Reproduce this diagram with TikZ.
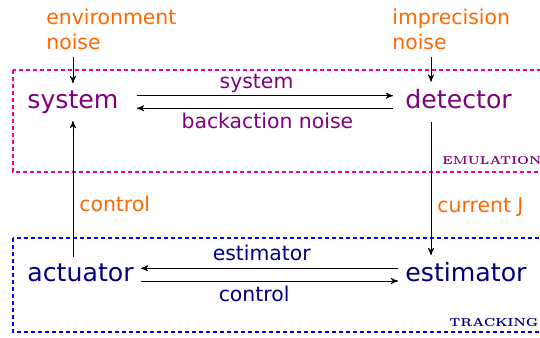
\documentclass[tikz,border=0pt]{standalone}
\usepackage{fontspec}
\setsansfont{DejaVu Sans}
\usepackage{xcolor}
\usepackage{tikz}
\usetikzlibrary{arrows,positioning}

\definecolor{noiseorange}{RGB}{255,102,0}
\definecolor{emupurple}{RGB}{128,0,128}
\definecolor{tracknavy}{RGB}{0,0,128}

\begin{document}
\begin{tikzpicture}[
        x=0.5pt, y=-0.5pt, >=stealth',
        block/.style={font=\sffamily\fontsize{12.6}{15}\selectfont, inner sep=3.5pt, anchor=base west},
        noise/.style={font=\sffamily\fontsize{10.2}{12.5}\selectfont, text=noiseorange, align=left, inner sep=3.5pt, anchor=south west},
        toplabel/.style={font=\sffamily\fontsize{10.2}{12}\selectfont, inner sep=0pt, anchor=base, yshift=3.7pt},
        botlabel/.style={font=\sffamily\fontsize{10.2}{12}\selectfont, inner sep=0pt, anchor=base, yshift=-10pt},
        sidelabel/.style={font=\sffamily\fontsize{10.2}{12}\selectfont, text=noiseorange, inner sep=0pt, anchor=base west, xshift=3pt},
        tag/.style={font=\rmfamily\bfseries\fontsize{5.8}{7}\selectfont, inner sep=0pt, anchor=base west},
        frame/.style={line width=0.6pt, dash pattern=on 2pt off 1.5pt}
      ]
        \useasboundingbox (0,0) rectangle (540,337);

        % layers
        \draw[frame, magenta] (13,70) rectangle (560,172);
        \draw[frame, blue] (13,238) rectangle (560,332);
        \node[tag, text=emupurple] (emu) at (442,164.3) {EMULATION};
        \node[tag, text=tracknavy] (track) at (449,326.7) {TRACKING};

        % blocks
        \node[block, text=emupurple] (sys) at (20,108.3) {system};
        \node[block, text=emupurple] (det) at (398,108.3) {detector};
        \node[block, text=tracknavy] (act) at (20,281.7) {actuator};
        \node[block, text=tracknavy] (est) at (398,281.7) {estimator};
        \node[noise] (envn) at (39,57) {environment\\noise};
        \node[noise] (impn) at (385,57) {imprecision\\noise};
        \coordinate (jcol) at (431,0);

        \draw[->] (envn.south -| sys.north) -- (sys.north);
        \draw[->] (impn.south -| jcol) -- (det.north -| jcol);
        \draw[->, shorten <=5.5pt, shorten >=2.5pt] (sys.east |- 0,95.7) -- node[toplabel, pos=0.48, text=emupurple] {system} (det.west |- 0,95.7);
        \draw[->, shorten <=2.5pt, shorten >=5.5pt] (det.west |- 0,108.3) -- node[botlabel, pos=0.48, text=emupurple] {backaction noise} (sys.east |- 0,108.3);
        \draw[->] (act.north -| sys.south) -- node[sidelabel, pos=0.33] {control} (sys.south);
        \draw[->, shorten <=3pt] (det.south -| jcol) -- node[sidelabel, pos=0.69] {current J} (est.north -| jcol);
        \draw[->] (est.west |- 0,268.3) -- node[toplabel, pos=0.53, text=tracknavy] {estimator} (act.east |- 0,268.3);
        \draw[->] (act.east |- 0,281) -- node[botlabel, pos=0.44, text=tracknavy] {control} (est.west |- 0,281);
      \end{tikzpicture}
\end{document}
